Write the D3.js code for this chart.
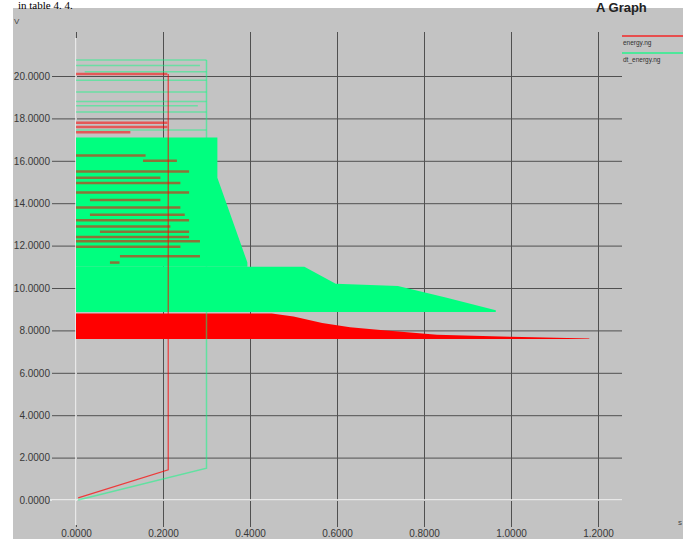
<!DOCTYPE html>
<html>
<head>
<meta charset="utf-8">
<script src="https://cdn.jsdelivr.net/npm/d3@7"></script>
<style>
  body { margin: 0; background: #fff; }
  svg { display: block; }
</style>
</head>
<body>
<svg id="chart" width="688" height="539"></svg>
<script>
// ticks
const xTicks = [0, 0.2, 0.4, 0.6, 0.8, 1.0, 1.2];
const yTicks = [0, 2, 4, 6, 8, 10, 12, 14, 16, 18, 20];

const seriesNames = ["energy.ng", "dt_energy.ng"];
const seriesColors = ["#ff0000", "#00ff7f"];

// ramp + vertical edge of each trace, [x, y]
const energyTrace = [[0.005, 0.1], [0.212, 1.42], [0.212, 20.1]];
const dtEnergyTrace = [[0.005, 0.0], [0.300, 1.5], [0.300, 20.75]];

// dense (filled) parts of the traces, outline [x, y]
const energyBand = [[0, 7.6], [0, 8.8], [0.45, 8.8], [0.5, 8.65], [0.566, 8.35], [0.63, 8.15],
  [0.70, 8.02], [0.83, 7.8], [1.0, 7.7], [1.18, 7.62], [1.18, 7.6]];
const dtEnergyBand = [[0, 8.87], [0, 11.0], [0.525, 11.0], [0.597, 10.2], [0.74, 10.1],
  [0.85, 9.55], [0.965, 8.95], [0.965, 8.87]];
const dtEnergyBlock = [[0, 11.0], [0, 17.1], [0.325, 17.1], [0.325, 15.2], [0.394, 11.2], [0.394, 11.0]];

// horizontal sweeps [y, xFrom, xTo]
const energySweeps = [
  [20.1, 0, 0.21], [17.8, 0, 0.21], [17.6, 0, 0.21], [17.35, 0, 0.125],
  [16.25, 0, 0.16], [16.0, 0.154, 0.232], [15.5, 0, 0.26], [15.2, 0, 0.194],
  [14.95, 0, 0.24], [14.5, 0, 0.26], [14.15, 0.032, 0.194], [13.8, 0, 0.24],
  [13.45, 0.032, 0.25], [13.2, 0, 0.26], [12.9, 0, 0.217], [12.65, 0.055, 0.26],
  [12.4, 0, 0.26], [12.2, 0, 0.285], [11.95, 0, 0.24], [11.5, 0.101, 0.285],
  [11.2, 0.078, 0.1]
];
const dtEnergySweeps = [
  [20.75, 0, 0.30], [20.5, 0, 0.285], [20.2, 0.02, 0.30], [19.8, 0, 0.30],
  [19.25, 0, 0.30], [18.8, 0, 0.30], [18.6, 0, 0.28], [18.3, 0, 0.30], [17.45, 0, 0.30]
];

const svg = d3.select("#chart");
const x = d3.scaleLinear().domain([0, 1.2]).range([76, 598]);
const y = d3.scaleLinear().domain([0, 20]).range([500, 76]);

// gray panel
svg.append("rect")
  .attr("x", 13).attr("y", 8).attr("width", 670).attr("height", 531)
  .attr("fill", "#c3c3c3");

// caption above the panel
svg.append("text")
  .attr("x", 18).attr("y", 8.5)
  .attr("font-family", "Liberation Serif").attr("font-size", 11)
  .text("in table 4. 4.");

// grid via axes
const yAxis = svg.append("g")
  .attr("transform", "translate(52,0)")
  .attr("font-family", "Liberation Sans").attr("font-size", 9.5)
  .call(d3.axisLeft(y).tickValues(yTicks).tickFormat(d3.format(".4f")).tickSize(-570).tickPadding(2));
yAxis.select(".domain").remove();
yAxis.selectAll("line").attr("stroke", "#505050");
yAxis.selectAll("text").attr("fill", "#383838");

const xAxis = svg.append("g")
  .attr("transform", "translate(0,527)")
  .attr("font-family", "Liberation Sans").attr("font-size", 9.5)
  .call(d3.axisBottom(x).tickValues(xTicks).tickFormat(d3.format(".4f")).tickSize(-495).tickPadding(3));
xAxis.select(".domain").remove();
xAxis.selectAll("line").attr("stroke", "#505050");
xAxis.selectAll("text").attr("fill", "#383838");

// zero lines
svg.append("line")
  .attr("x1", 50).attr("x2", 622).attr("y1", y(0)).attr("y2", y(0))
  .attr("stroke", "#f4f4f4").attr("stroke-width", 1.5);
svg.append("line")
  .attr("x1", x(0)).attr("x2", x(0)).attr("y1", 38).attr("y2", 525)
  .attr("stroke", "#f4f4f4").attr("stroke-width", 1.5);

const area = d3.line().x(d => x(d[0])).y(d => y(d[1]));

// filled regions
[dtEnergyBand, dtEnergyBlock].forEach(p => {
  svg.append("path").attr("d", area(p) + "Z").attr("fill", seriesColors[1]);
});
svg.append("path").attr("d", area(energyBand) + "Z").attr("fill", seriesColors[0]);

// sweeps
svg.append("g").selectAll("line")
  .data(dtEnergySweeps).enter().append("line")
  .attr("x1", d => x(d[1])).attr("x2", d => x(d[2]))
  .attr("y1", d => y(d[0])).attr("y2", d => y(d[0]))
  .attr("stroke", seriesColors[1]).attr("stroke-opacity", 0.45).attr("stroke-width", 1.5);

svg.append("g").selectAll("line")
  .data(energySweeps).enter().append("line")
  .attr("x1", d => x(d[1])).attr("x2", d => x(d[2]))
  .attr("y1", d => y(d[0])).attr("y2", d => y(d[0]))
  .attr("stroke", seriesColors[0]).attr("stroke-opacity", 0.55).attr("stroke-width", 2.5);

// traces
svg.append("path").attr("d", area(dtEnergyTrace))
  .attr("fill", "none").attr("stroke", seriesColors[1]).attr("stroke-opacity", 0.5).attr("stroke-width", 1.5);
svg.append("path").attr("d", area(energyTrace))
  .attr("fill", "none").attr("stroke", seriesColors[0]).attr("stroke-opacity", 0.7).attr("stroke-width", 1.2);

// legend
const legend = svg.append("g").selectAll("g")
  .data(seriesNames).enter().append("g")
  .attr("transform", (d, i) => `translate(622, ${36 + i * 17})`);
legend.append("line")
  .attr("x1", 0).attr("x2", 61)
  .attr("stroke", (d, i) => seriesColors[i]).attr("stroke-opacity", 0.6).attr("stroke-width", 2);
legend.append("text")
  .attr("x", 1).attr("y", 9)
  .attr("font-family", "Liberation Sans").attr("font-size", 6.5).attr("fill", "#303030")
  .text(d => d);

// title and unit labels
svg.append("text")
  .attr("x", 596).attr("y", 12)
  .attr("font-family", "Liberation Sans").attr("font-size", 13).attr("font-weight", "bold")
  .attr("fill", "#222")
  .text("A Graph");
svg.append("text")
  .attr("x", 14).attr("y", 24)
  .attr("font-family", "Liberation Sans").attr("font-size", 8).attr("fill", "#444")
  .text("V");
svg.append("text")
  .attr("x", 678).attr("y", 525)
  .attr("font-family", "Liberation Sans").attr("font-size", 8).attr("fill", "#444")
  .text("s");
</script>
</body>
</html>
